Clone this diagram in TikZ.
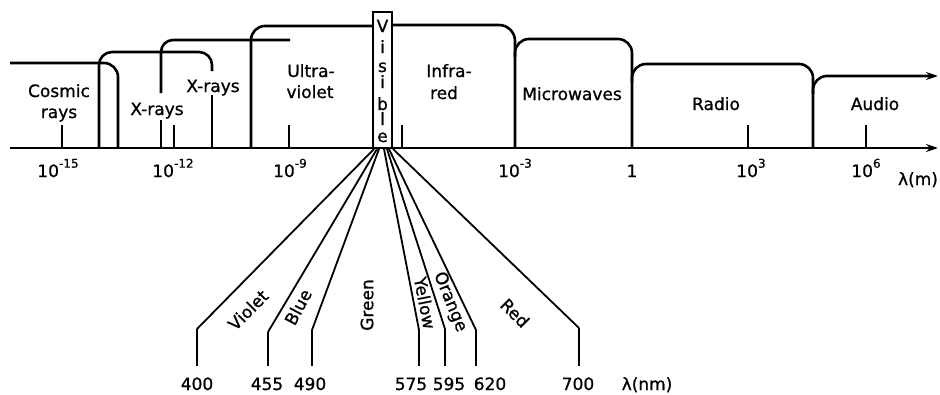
\documentclass[tikz,border=0pt]{standalone}
\usepackage{fontspec}
\setmainfont{DejaVu Sans}[UprightFeatures={FakeBold=0.9}]
\usetikzlibrary{arrows.meta}
\newcommand\supx[1]{\raisebox{0.55em}{\fontsize{12}{12}\selectfont #1}}
\begin{document}
\begin{tikzpicture}[x=1pt,y=-1pt,
  band/.style={line width=2.6pt,rounded corners=14pt},
  bar/.style={line width=2.6pt},
  tick/.style={line width=2pt},
  fan/.style={line width=1.8pt},
  leg/.style={line width=2.8pt},
  lab/.style={font=\fontsize{17}{17}\selectfont,inner sep=0pt,anchor=base},
  axl/.style={font=\fontsize{17}{17}\selectfont,inner sep=0pt,anchor=base},
  vis/.style={font=\fontsize{17}{17}\selectfont,inner sep=0pt,anchor=base},
  col/.style={font=\fontsize{17}{17}\selectfont,inner sep=0pt,anchor=center},
  tip/.style={-{Stealth[length=12pt,width=8pt,inset=4pt]}}]
\useasboundingbox (0,0) rectangle (940,394);

% axis
\coordinate (axL) at (10,148);
\coordinate (axR) at (938,148);
\draw[bar,tip] (axL) -- (axR);

% ticks
\foreach \x/\n in {62/a,174/b,289/c,402/d,748/e,866/f}{
  \coordinate (t\n) at (\x,125);
  \coordinate (u\n) at (\x,148);
  \draw[tick] (t\n) -- (u\n);
}

% bands
\draw[band] (10,63) -- (118,63) -- (118,148);
\draw[band,rounded corners=13pt] (99,148) -- (99,52) -- (212,52) -- (212,71);
\draw[bar] (212,95) -- (212,148);
\draw[bar] (161,148) -- (161,120);
\draw[band,rounded corners=12pt] (161,93) -- (161,40) -- (290,40);
\draw[band] (251,148) -- (251,26) -- (373,26);
\draw[band,rounded corners=16pt] (392,25) -- (515,25) -- (515,148);
\draw[band] (515,57) -- (515,39) -- (632,39) -- (632,148);
\draw[band] (632,82) -- (632,64) -- (813,64) -- (813,148);
\draw[band,tip] (813,94) -- (813,76) -- (938,76);

% visible box
\node[draw,line width=2.4pt,minimum width=19pt,minimum height=136pt,inner sep=0pt] (vbox) at (382.5,80) {};
\foreach \c/\y in {V/32,i/53,s/72,i/88,b/110,l/125,e/142}{
  \node[vis] at (382.5,\y) {\c};
}

% band labels
\node[lab] (cos1) at (59,97) {Cosmic};
\node[lab] (cos2) at (59,118) {rays};
\node[lab] (xr1) at (157,115) {X-rays};
\node[lab] (xr2) at (213,92) {X-rays};
\node[lab] (uv1) at (311,77) {Ultra-};
\node[lab] (uv2) at (310,98) {violet};
\node[lab] (ir1) at (449,77) {Infra-};
\node[lab] (ir2) at (444,99) {red};
\node[lab] (mw) at (572,100) {Microwaves};
\node[lab] (ra) at (716,110) {Radio};
\node[lab] (wa) at (875,110) {Audio};

% axis labels
\node[axl] (l15) at (58,177) {10\supx{-15}};
\node[axl] (l12) at (173,177) {10\supx{-12}};
\node[axl] (l9) at (290,177) {10\supx{-9}};
\node[axl] (l3m) at (515,177) {10\supx{-3}};
\node[axl] (l0) at (632,177) {1};
\node[axl] (l3) at (751,177) {10\supx{3}};
\node[axl] (l6) at (866,177) {10\supx{6}};
\node[axl] (lam) at (918,185) {λ(m)};

% fan to visible wavelengths
\foreach \n/\ox/\bx/\by/\lx in {400/374/197/329/197,455/377/268/332/267,490/379/312/330/310,575/384/419/330/411,595/387/445/329/449,620/389/476/330/490,700/393/579/328/578}{
  \coordinate (o\n) at (\ox,149);
  \coordinate (b\n) at (\bx,\by);
  \coordinate (e\n) at (\bx,366);
  \draw[fan] (o\n) -- (b\n);
  \draw[leg] (b\n) -- (e\n);
  \node[axl] (n\n) at (\lx,390) {\n};
}
\node[axl] (lnm) at (647,390) {λ(nm)};

% colour labels
\node[col,rotate=45] (cv) at (248,310) {Violet};
\node[col,rotate=62] (cb) at (298,307) {Blue};
\node[col,rotate=90] (cg) at (367,305) {Green};
\node[col,rotate=-79] (cy) at (425,303) {Yellow};
\node[col,rotate=-68] (co) at (450,302) {Orange};
\node[col,rotate=-45] (cr) at (515,313) {Red};
\end{tikzpicture}
\end{document}
